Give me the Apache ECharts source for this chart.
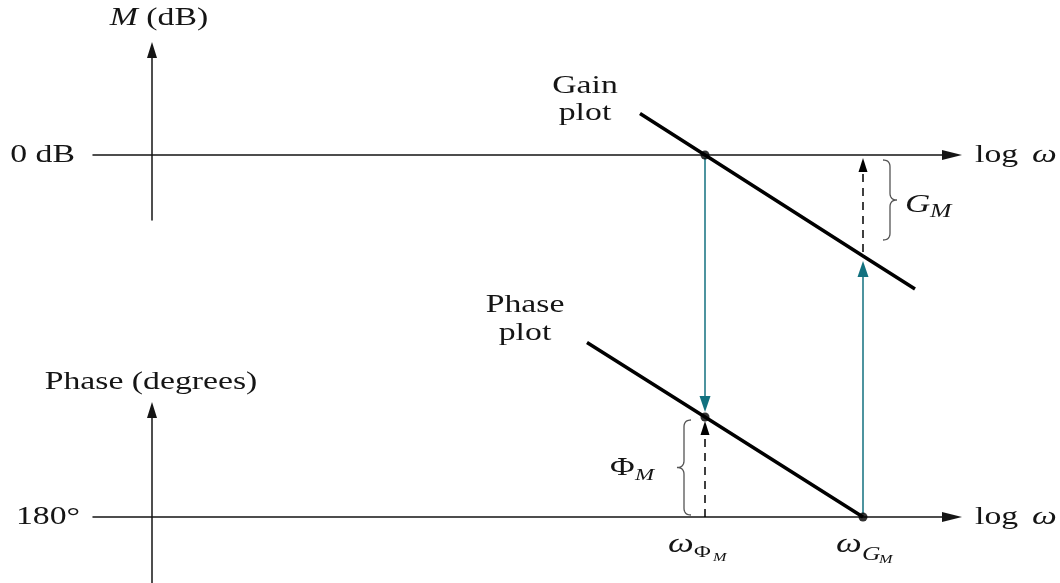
<!DOCTYPE html>
<html>
<head>
<meta charset="utf-8">
<script src="https://cdn.jsdelivr.net/npm/echarts@6/dist/echarts.min.js"></script>
<style>
  html, body { margin: 0; padding: 0; background: #fff; }
  #main { width: 1060px; height: 583px; }
</style>
</head>
<body>
<div id="main"></div>
<script>
// x = log(omega), 0 where the vertical axes stand
var xRange = [-0.59, 8.0];
var dbRange = [-6.5, 10.5];      // gain plot, dB
var degRange = [-33, 53.5];      // phase plot, degrees above the 180 deg line

var gainX = [4.88, 5.53, 7.11, 7.63];
var gainDb = [4.15, 0, -10.1, -13.4];
var phaseX = [4.35, 5.53, 7.11];
var phaseDeg = [87.3, 50, 0];

var wPhiM = 5.53;     // gain crossover
var wGM = 7.11;       // phase crossover
var gainAtWGM = -10.1;
var phaseAtWPhiM = 50;

var SERIF = '"Liberation Serif", "DejaVu Serif", serif';
var INK = '#151515';
var TEAL = '#12717f';
var SX = 1.35;   // the source figure is stretched sideways

function zip(a, b) {
  var out = [];
  for (var i = 0; i < a.length; i++) out.push([a[i], b[i]]);
  return out;
}

function xAxisFor(gi) {
  return {
    gridIndex: gi, type: 'value', min: xRange[0], max: xRange[1],
    axisLine: { show: true, onZero: true, symbol: ['none', 'triangle'], symbolSize: [10, 20],
      lineStyle: { color: INK, width: 1.5 } },
    axisTick: { show: false }, axisLabel: { show: false }, splitLine: { show: false }
  };
}

function yAxisFor(gi, range) {
  return {
    gridIndex: gi, type: 'value', min: range[0], max: range[1],
    axisLine: { show: true, onZero: true, symbol: ['none', 'triangle'], symbolSize: [10, 16],
      lineStyle: { color: INK, width: 1.5 } },
    axisTick: { show: false }, axisLabel: { show: false }, splitLine: { show: false }
  };
}

var option = {
  animation: false,
  backgroundColor: '#ffffff',
  grid: [
    { left: 93, right: 108, top: 50, height: 170, outerBoundsMode: 'none' },
    { left: 93, right: 108, top: 410, bottom: 0, outerBoundsMode: 'none' }
  ],
  xAxis: [xAxisFor(0), xAxisFor(1)],
  yAxis: [yAxisFor(0, dbRange), yAxisFor(1, degRange)],
  series: [
    {
      name: 'Gain plot', type: 'line', xAxisIndex: 0, yAxisIndex: 0,
      data: zip(gainX, gainDb), symbol: 'none', clip: false,
      lineStyle: { color: '#000', width: 3.5 }
    },
    {
      type: 'scatter', xAxisIndex: 0, yAxisIndex: 0, z: 5,
      data: [[wPhiM, 0], [wGM, gainAtWGM]], symbolSize: 9, itemStyle: { color: '#000' }
    },
    {
      name: 'Phase plot', type: 'line', xAxisIndex: 1, yAxisIndex: 1,
      data: zip(phaseX, phaseDeg), symbol: 'none', clip: false,
      lineStyle: { color: '#000', width: 3.5 }
    },
    {
      type: 'scatter', xAxisIndex: 1, yAxisIndex: 1, z: 5,
      data: [[wPhiM, phaseAtWPhiM], [wGM, 0]], symbolSize: 9, itemStyle: { color: '#000' }
    }
  ]
};

var chart = echarts.init(document.getElementById('main'));
chart.setOption(option);

function px(gi, x, y) {
  return chart.convertToPixel({ gridIndex: gi }, [x, y]);
}

// line with a filled head whose tip sits at `to`
function arrow(from, to, color, dash, headW, headL) {
  var dx = to[0] - from[0], dy = to[1] - from[1];
  var len = Math.sqrt(dx * dx + dy * dy);
  var ux = dx / len, uy = dy / len;
  var bx = to[0] - ux * headL, by = to[1] - uy * headL;
  return [
    { type: 'line', z: 1, silent: true,
      shape: { x1: from[0], y1: from[1], x2: bx, y2: by },
      style: { stroke: color, lineWidth: 1.5, lineDash: dash } },
    { type: 'polygon', z: 1, silent: true,
      shape: { points: [[to[0], to[1]], [bx - uy * headW / 2, by + ux * headW / 2], [bx + uy * headW / 2, by - ux * headW / 2]] },
      style: { fill: color } }
  ];
}

// curly brace: tips at x0, point at x0 + dir*w
function brace(x0, dir, y1, y2) {
  var w = 14, r = 7, xm = x0 + dir * w / 2, xp = x0 + dir * w, ym = (y1 + y2) / 2;
  var pts = [];
  function quad(p0, c, p1) {
    for (var t = 0; t <= 1.0001; t += 0.1) {
      var a = (1 - t) * (1 - t), b = 2 * (1 - t) * t, d = t * t;
      pts.push([a * p0[0] + b * c[0] + d * p1[0], a * p0[1] + b * c[1] + d * p1[1]]);
    }
  }
  quad([x0, y1], [xm, y1], [xm, y1 + r]);
  quad([xm, ym - r], [xm, ym], [xp, ym]);
  quad([xp, ym], [xm, ym], [xm, ym + r]);
  quad([xm, y2 - r], [xm, y2], [x0, y2]);
  return { type: 'polyline', z: 1, silent: true, shape: { points: pts },
    style: { stroke: '#555', lineWidth: 1.3, fill: null } };
}

function txt(x, y, s, size, italic, align, lh) {
  return { type: 'text', z: 10, silent: true, x: x, y: y, scaleX: SX,
    style: { text: s, fill: INK, align: align || 'left', verticalAlign: 'middle',
      fontFamily: SERIF, fontSize: size, fontStyle: italic ? 'italic' : 'normal',
      lineHeight: lh || size,
      rich: {
        i: { fontFamily: SERIF, fontSize: size, fontStyle: 'italic', fill: INK },
        w: { fontFamily: SERIF, fontSize: size + 1, fontStyle: 'italic', fill: INK, padding: [0, 0, 0, 4] }
      } } };
}

var o0 = px(0, 0, 0);
var o1 = px(1, 0, 0);
var end0 = px(0, xRange[1], 0);
var end1 = px(1, xRange[1], 0);
var top0 = px(0, 0, dbRange[1]);
var top1 = px(1, 0, degRange[1]);

var g0 = px(0, wPhiM, 0);
var gDot = px(0, wGM, gainAtWGM);
var gZeroAtWGM = px(0, wGM, 0);
var pDot = px(1, wPhiM, phaseAtWPhiM);
var pZero = px(1, wGM, 0);
var pZeroAtWPhiM = px(1, wPhiM, 0);
var gStart = px(0, gainX[0], gainDb[0]);
var pStart = px(1, phaseX[0], phaseDeg[0]);

var els = [];
els = els.concat(arrow([g0[0], g0[1] + 3], [pDot[0], pDot[1] - 5], TEAL, null, 11, 16));
els = els.concat(arrow([pZero[0], pZero[1] - 3], [gDot[0], gDot[1] + 5], TEAL, null, 11, 16));
els = els.concat(arrow([gDot[0], gDot[1] - 4], [gZeroAtWGM[0], gZeroAtWGM[1] + 3], '#000', [8, 6], 9, 14));
els = els.concat(arrow([pZeroAtWPhiM[0], pZeroAtWPhiM[1]], [pDot[0], pDot[1] + 4], '#000', [8, 6], 9, 14));

els.push(brace(gDot[0] + 20, 1, gZeroAtWGM[1] + 5, gDot[1] - 16));
els.push(brace(pDot[0] - 14, -1, pDot[1] + 3, pZeroAtWPhiM[1] - 2));

// axis texts
els.push(txt(top0[0] + 7, top0[1] - 32, '{i|M} (dB)', 25, false, 'center'));
els.push(txt(o0[0] - 77, o0[1], '0 dB', 25, false, 'right'));
els.push(txt(end0[0] + 23, end0[1], 'log {w|ω}', 25, false, 'left'));
els.push(txt(top1[0] - 1, top1[1] - 28, 'Phase (degrees)', 25, false, 'center'));
els.push(txt(o1[0] - 72, o1[1], '180°', 25, false, 'right'));
els.push(txt(end1[0] + 23, end1[1], 'log {w|ω}', 25, false, 'left'));

// curve names
els.push(txt(gStart[0] - 55, gStart[1] - 14, 'Gain\nplot', 25, false, 'center', 27));
els.push(txt(pStart[0] - 62, pStart[1] - 23, 'Phase\nplot', 25, false, 'center', 28));

// G_M
var gMid = (gZeroAtWGM[1] + gDot[1]) / 2;
els.push(txt(gDot[0] + 42, gMid, 'G', 26, true));
els.push(txt(gDot[0] + 67, gMid + 6, 'M', 19, true));
// Phi_M
els.push(txt(pDot[0] - 95, pDot[1] + 51, 'Φ', 25, false));
els.push(txt(pDot[0] - 70, pDot[1] + 59, 'M', 17, true));
// omega_PhiM
els.push(txt(pZeroAtWPhiM[0] - 37, pZeroAtWPhiM[1] + 28, 'ω', 27, true));
els.push(txt(pZeroAtWPhiM[0] - 11, pZeroAtWPhiM[1] + 36, 'Φ', 17, false));
els.push(txt(pZeroAtWPhiM[0] + 8, pZeroAtWPhiM[1] + 41, 'M', 12, true));
// omega_GM
els.push(txt(pZero[0] - 27, pZero[1] + 28, 'ω', 27, true));
els.push(txt(pZero[0] - 1, pZero[1] + 38, 'G', 19, true));
els.push(txt(pZero[0] + 16, pZero[1] + 43, 'M', 12, true));

chart.setOption({ graphic: { elements: els } });
</script>
</body>
</html>
